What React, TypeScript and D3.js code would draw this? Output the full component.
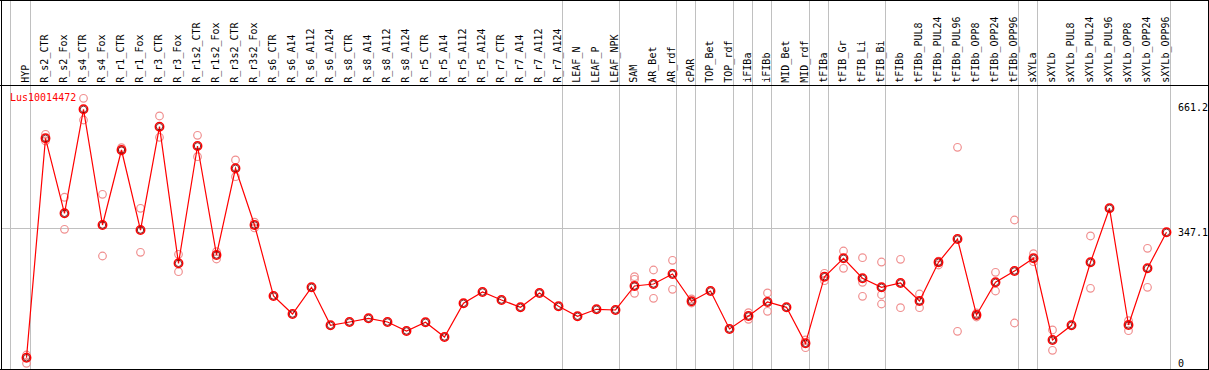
import React from "react";
import * as d3 from "d3";

const geneName = "Lus10014472";

const categories: string[] = [
  "HYP", "R_s2_CTR", "R_s2_Fox", "R_s4_CTR", "R_s4_Fox", "R_r1_CTR", "R_r1_Fox", "R_r3_CTR", "R_r3_Fox",
  "R_r1s2_CTR", "R_r1s2_Fox", "R_r3s2_CTR", "R_r3s2_Fox", "R_s6_CTR", "R_s6_A14", "R_s6_A112", "R_s6_A124",
  "R_s8_CTR", "R_s8_A14", "R_s8_A112", "R_s8_A124", "R_r5_CTR", "R_r5_A14", "R_r5_A112", "R_r5_A124",
  "R_r7_CTR", "R_r7_A14", "R_r7_A112", "R_r7_A124", "LEAF_N", "LEAF_P", "LEAF_NPK", "SAM", "AR_Bet", "AR_rdf",
  "cPAR", "TOP_Bet", "TOP_rdf", "iFIBa", "iFIBb", "MID_Bet", "MID_rdf", "tFIBa", "tFIB_Gr", "tFIB_Li", "tFIB_Bi",
  "tFIBb", "tFIBb_PUL8", "tFIBb_PUL24", "tFIBb_PUL96", "tFIBb_OPP8", "tFIBb_OPP24", "tFIBb_OPP96",
  "sXYLa", "sXYLb", "sXYLb_PUL8", "sXYLb_PUL24", "sXYLb_PUL96", "sXYLb_OPP8", "sXYLb_OPP24", "sXYLb_OPP96",
];

// sizes of the column groups separated by grey vertical lines
const groupSizes: number[] = [1, 28, 3, 3, 1, 2, 1, 1, 2, 1, 3, 7, 1, 7];

const meanValues: number[] = [
  34.5, 564.6, 383.4, 634.6, 355.1, 536.3, 343.0, 592.6, 262.6,
  546.0, 282.7, 492.1, 355.1, 183.6, 140.1, 204.6, 112.8,
  120.8, 129.7, 120.8, 99.1, 120.1, 84.6, 166.0, 193.3,
  173.9, 156.3, 190.9, 158.7, 134.6, 151.5, 149.8, 207.8, 212.6, 236.8,
  170.8, 195.7, 103.9, 135.3, 169.1, 156.3, 69.3, 230.2, 274.7, 226.4, 204.6,
  215.0, 171.5, 265.0, 321.3, 137.7, 216.7, 244.0,
  274.7, 77.3, 112.8, 265.0, 395.5, 113.5, 250.5, 337.5,
];

const replicateValues: number[][] = [
  [41.1, 21.0], [574.2, 558.1], [422.1, 344.7], [661.2, 608.8], [429.3, 280.2], [541.9, 533.9], [395.5, 289.2], [618.5, 567.0], [284.3, 242.3],
  [571.8, 520.1], [290.6, 273.0], [512.2, 471.8], [362.0, 348.0], [], [], [], [],
  [], [], [], [], [], [], [], [],
  [], [], [], [], [], [], [], [230.2, 224.0, 190.1], [246.4, 178.0], [269.9, 199.8],
  [176.4, 166.7], [], [], [143.3, 127.3], [190.9, 146.6], [], [77.3, 58.7], [238.4, 220.6], [292.3, 250.5], [276.1, 216.7, 182.9], [265.7, 186.7, 164.3],
  [272.3, 155.3], [188.4, 155.3], [258.5, 268.0], [542.8, 98.3], [142.5, 132.9], [240.9, 195.7], [367.2, 118.4],
  [285.8, 266.5], [101.5, 52.4], [], [328.6, 202.2], [], [123.9, 99.8], [298.8, 204.6], [],
];

const axisTicks: number[] = [661.2, 347.1, 0];
const gridValues: number[] = [347.1];

const W = 1209;
const H = 370;
const headerBottom = 85.5;
const plotRight = 1170.5;
const font = "'DejaVu Sans Mono', monospace";

export default function App() {
  const x = d3.scaleLinear().domain([0, categories.length - 1]).range([26.5, 1166.5]);
  const y = d3.scaleLinear().domain([0, 661.2]).range([372, 98.3]);

  const boundaries: number[] = [];
  let acc = 0;
  boundaries.push(x(0) - 16);
  groupSizes.forEach((g) => {
    acc += g;
    boundaries.push(x(acc) - 15);
  });

  const line = d3
    .line<number>()
    .x((_, i) => x(i))
    .y((d) => y(d));

  const labelY = (v: number) => Math.max(110.7, Math.min(366.8, y(v) + 7.5));

  return (
    <div style={{ position: "absolute", left: 0, top: 0 }}>
      <svg width={W} height={H} style={{ display: "block" }}>
        <rect x={0} y={0} width={W} height={H} fill="#fff" />
        {/* vertical group lines */}
        {boundaries.map((b, i) => (
          <line key={"vb" + i} x1={b} x2={b} y1={0} y2={H} stroke="#c0c0c0" strokeWidth={1} />
        ))}
        {/* horizontal grid */}
        {gridValues.map((v, i) => (
          <line key={"hg" + i} x1={1.5} x2={plotRight} y1={Math.round(y(v)) + 0.5} y2={Math.round(y(v)) + 0.5} stroke="#c0c0c0" strokeWidth={1} />
        ))}
        {/* frame */}
        <line x1={0} x2={W} y1={0.5} y2={0.5} stroke="#000" />
        <line x1={0} x2={W} y1={369.5} y2={369.5} stroke="#000" />
        <line x1={1.5} x2={1.5} y1={0} y2={H} stroke="#000" />
        <line x1={1208.5} x2={1208.5} y1={0} y2={H} stroke="#000" />
        <line x1={0} x2={W} y1={headerBottom} y2={headerBottom} stroke="#000" />
        {/* header labels */}
        {categories.map((c, i) => (
          <text
            key={"lab" + i}
            transform={`translate(${x(i) + 2.5},82.7) rotate(-90)`}
            fontFamily={font}
            fontSize={10}
            fill="#000"
          >
            {c}
          </text>
        ))}
        {/* gene name */}
        <text x={10} y={100.5} fontFamily={font} fontSize={10} fill="#ff0000">
          {geneName}
        </text>
        {/* axis labels */}
        {axisTicks.map((v, i) => (
          <text key={"ax" + i} x={1178} y={labelY(v)} fontFamily={font} fontSize={10} fill="#000">
            {String(v)}
          </text>
        ))}
        {/* replicates */}
        {replicateValues.map((reps, i) =>
          reps.map((v, j) => (
            <circle key={`r${i}_${j}`} cx={x(i)} cy={y(v)} r={3.8} fill="none" stroke="#f09090" strokeWidth={1.2} />
          ))
        )}
        {/* mean line */}
        <path d={line(meanValues) || ""} fill="none" stroke="#ff0000" strokeWidth={1.2} />
        {/* mean markers */}
        {meanValues.map((v, i) => (
          <g key={"m" + i}>
            <circle cx={x(i)} cy={y(v)} r={4.2} fill="none" stroke="#ff0000" strokeWidth={1.5} />
            <circle cx={x(i)} cy={y(v)} r={3.2} fill="none" stroke="#600000" strokeWidth={0.8} />
          </g>
        ))}
      </svg>
    </div>
  );
}
